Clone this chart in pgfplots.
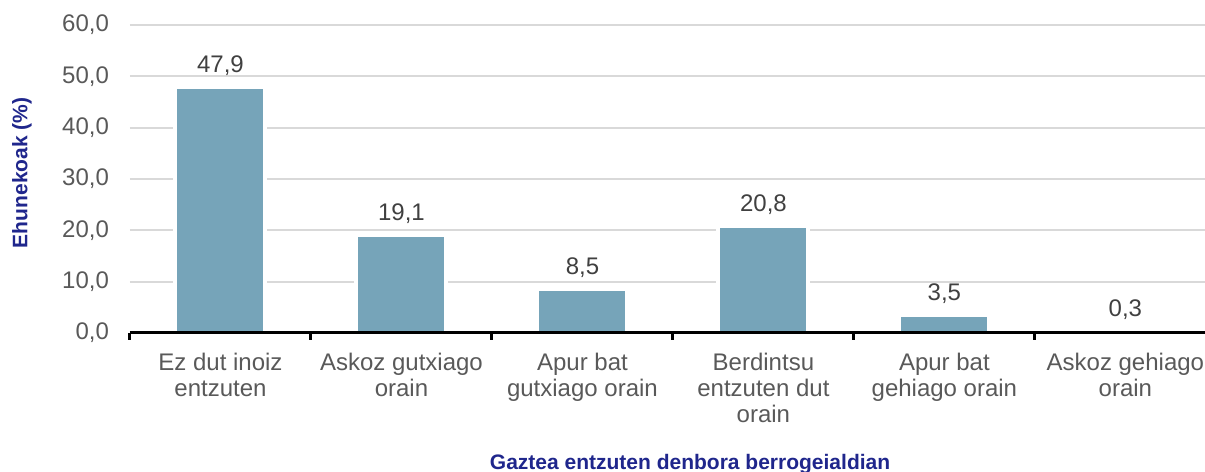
\documentclass[border=0pt]{standalone}
\usepackage{pgfplots}
\pgfplotsset{compat=1.18}
\usepackage{fontspec}
\setmainfont{Liberation Sans}
\begin{document}
\begin{tikzpicture}
\definecolor{barblue}{RGB}{118,164,185}
\definecolor{navytxt}{RGB}{31,38,140}
\definecolor{tickgray}{RGB}{89,89,89}
\definecolor{valgray}{RGB}{64,64,64}
\definecolor{gridgray}{RGB}{217,217,217}
\begin{axis}[
    name=ax,
    width=537.5pt,
    height=154pt,
    scale only axis,
    xmin=-0.5, xmax=5.44,
    ymin=0, ymax=60,
    ytick={0,10,...,60},
    xtick={0,...,5},
    xticklabels={Ez dut inoiz\\entzuten, Askoz gutxiago\\orain, Apur bat\\gutxiago orain, Berdintsu\\entzuten dut\\orain, Apur bat\\gehiago orain, Askoz gehiago\\orain},
    minor xtick={-0.5,0.5,...,4.5},
    major tick length=0pt,
    minor tick length=3.5pt,
    xtick align=outside,
    minor x tick style={black, line width=1.5pt},
    ytick style={draw=none},
    axis x line*=bottom,
    axis y line*=left,
    y axis line style={draw=none},
    x axis line style={black, line width=1.5pt, -},
    ymajorgrids,
    grid style={gridgray, line width=1pt},
    /pgf/number format/.cd, fixed, fixed zerofill, precision=1, use comma, assume math mode=true,
    /pgfplots/.cd,
    y tick label style={font=\fontsize{12}{13}\selectfont, text=tickgray, xshift=-7pt},
    x tick label style={font=\fontsize{12}{13}\selectfont, text=tickgray, align=center, yshift=-6.5pt},
    ylabel={Ehunekoak (\%)},
    xlabel={Gaztea entzuten denbora berrogeialdian},
    every axis y label/.style={at={(axis description cs:-0.1005,0.52)}, rotate=90, anchor=center, font=\fontsize{10.5}{12}\selectfont\bfseries, text=navytxt},
    every axis x label/.style={at={(axis description cs:0.521,-0.425)}, anchor=center, font=\fontsize{10.5}{12}\selectfont\bfseries, text=navytxt},
    nodes near coords,
    every node near coord/.append style={font=\fontsize{12}{13}\selectfont, text=valgray, yshift=1.5pt},
]
\addplot[ybar, bar width=45pt, fill=barblue, draw=white, line width=2pt]
    coordinates {(0,47.9) (1,19.1) (2,8.5) (3,20.8) (4,3.5) (5,0.3)};
\draw[black, line width=1.5pt] (rel axis cs:0,0) -- (rel axis cs:1,0);
\end{axis}
\pgfresetboundingbox
\path ([xshift=-65pt,yshift=-69.5pt]ax.south west) rectangle ([yshift=12.5pt]ax.north east);
\end{tikzpicture}
\end{document}
